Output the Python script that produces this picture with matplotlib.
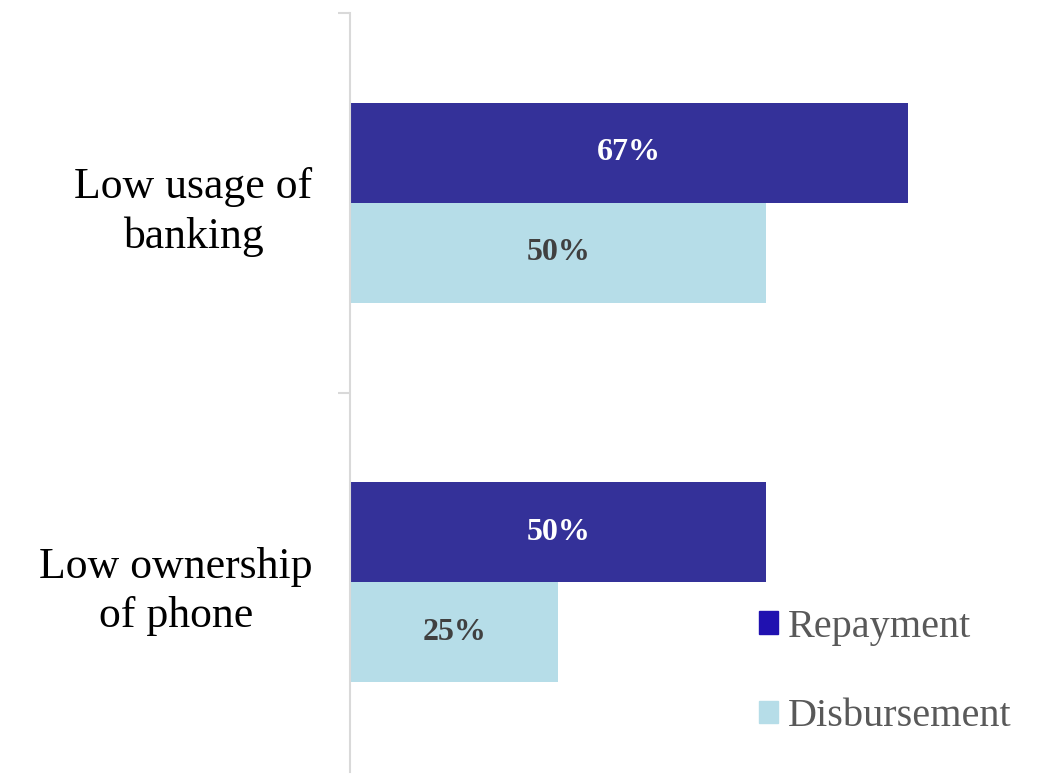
import matplotlib.pyplot as plt
import numpy as np
from matplotlib.patches import Patch

# data
categories = ['Low usage of\nbanking', 'Low ownership\nof phone']
repayment = [67, 50]
disbursement = [50, 25]
series_names = ['Repayment', 'Disbursement']

bar_colors = ['#343199', '#B6DDE8']
legend_colors = ['#2011B0', '#B6DDE8']
label_colors = ['white', '#404040']

plt.rcParams['font.family'] = ['Liberation Serif', 'DejaVu Serif']

fig = plt.figure(figsize=(10.41, 7.74), dpi=100)
ax = fig.add_axes([350 / 1041, 2 / 774, 691 / 1041, 759 / 774])

y = np.arange(len(categories))
h = 0.263

for vals, off, col, lcol in [(repayment, -h / 2, bar_colors[0], label_colors[0]),
                             (disbursement, h / 2, bar_colors[1], label_colors[1])]:
    ax.barh(y + off, vals, height=h, color=col)
    for yi, v in zip(y, vals):
        ax.text(v / 2, yi + off, '%d%%' % v, ha='center', va='center',
                color=lcol, fontsize=23, fontweight='bold')

ax.set_xlim(0, 83)
ax.set_ylim(1.5, -0.5)

# category labels
ax.set_yticks(y)
ax.set_yticklabels(categories, fontsize=31.5, multialignment='center', linespacing=1.3)
ax.tick_params(axis='y', which='major', length=0, pad=27)
ax.set_yticks([-0.5, 0.5], minor=True)
ax.tick_params(axis='y', which='minor', length=9, width=1.5, color='#D9D9D9')
ax.set_xticks([])

for s in ['top', 'right', 'bottom']:
    ax.spines[s].set_visible(False)
ax.spines['left'].set_color('#D9D9D9')
ax.spines['left'].set_linewidth(1.5)

handles = [Patch(color=legend_colors[0]), Patch(color=legend_colors[1])]
fig.legend(handles, series_names, loc='center left', bbox_to_anchor=(759 / 1041, 1 - 672 / 774),
           frameon=False, fontsize=29, labelcolor='#595959', borderpad=0, borderaxespad=0,
           handlelength=0.47, handleheight=0.47, handletextpad=0.25,
           labelspacing=1.3)

fig.savefig('out.png', dpi=100)
